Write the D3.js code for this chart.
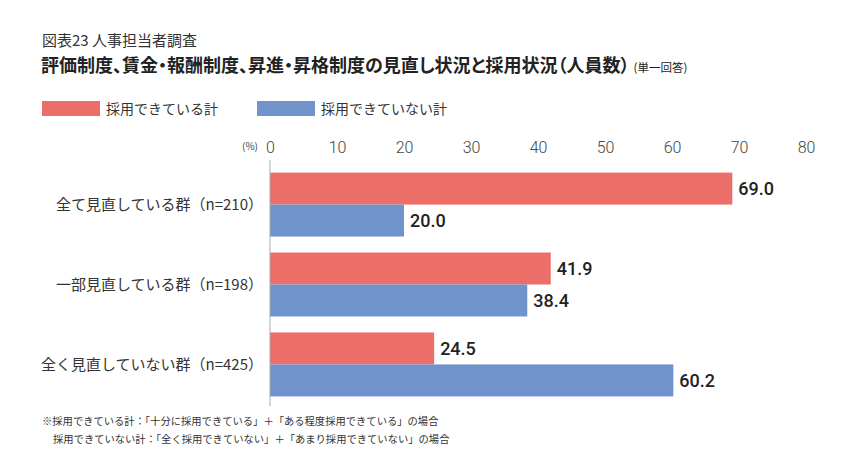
<!DOCTYPE html>
<html>
<head>
<meta charset="utf-8">
<script src="https://cdn.jsdelivr.net/npm/d3@7"></script>
<style>
  body { margin: 0; background: #fff; }
  text { font-family: "Noto Sans CJK JP", "Noto Sans", sans-serif; }
  .num { font-family: Roboto, "Noto Sans", sans-serif; }
  .palt { font-feature-settings: "palt"; }
</style>
</head>
<body>
<div id="chart"></div>
<script>
// Chart data
const categories = ['全て見直している群（n=210）', '一部見直している群（n=198）', '全く見直していない群（n=425）'];
const seriesNames = ['採用できている計', '採用できていない計'];
const hiredValues = [69.0, 41.9, 24.5];
const notHiredValues = [20.0, 38.4, 60.2];
const tickValues = [0, 10, 20, 30, 40, 50, 60, 70, 80];
const colors = ['#ec6e68', '#6f93ca'];

function drawChart(selector) {
    const width = 853, height = 474;
    const svg = d3.select(selector).append('svg')
        .attr('width', width)
        .attr('height', height);

    // Titles
    svg.append('text')
        .attr('x', 42).attr('y', 46)
        .attr('font-size', 15).attr('fill', '#333')
        .text('図表23 人事担当者調査');
    const title = svg.append('text')
        .attr('class', 'palt')
        .attr('x', 41).attr('y', 72)
        .attr('font-size', 18).attr('font-weight', 'bold').attr('fill', '#222');
    title.append('tspan').text('評価制度、賃金・報酬制度、昇進・昇格制度の見直し状況と採用状況（人員数）');
    title.append('tspan').attr('font-size', 11.5).attr('font-weight', 'normal').attr('dx', 4).text('(単一回答)');

    // Legend
    const legendX = [42, 257];
    seriesNames.forEach((name, i) => {
        svg.append('rect')
            .attr('x', legendX[i]).attr('y', 101)
            .attr('width', 58).attr('height', 15)
            .attr('fill', colors[i]);
        svg.append('text')
            .attr('x', legendX[i] + 64).attr('y', 114)
            .attr('font-size', 14).attr('fill', '#333')
            .text(name);
    });

    // Scales
    const x = d3.scaleLinear().domain([0, 80]).range([270, 806]);
    const y = d3.scaleBand().domain(categories).range([163, 406]).paddingInner(0.2).paddingOuter(0.12);
    const sub = d3.scaleBand().domain(seriesNames).range([0, y.bandwidth()]);

    // Top tick labels (no tick lines)
    const axis = svg.append('g')
        .attr('transform', 'translate(0,139)')
        .call(d3.axisTop(x).tickValues(tickValues).tickSize(0).tickPadding(0));
    axis.select('.domain').remove();
    axis.selectAll('text')
        .attr('class', 'num')
        .attr('font-size', 16)
        .attr('fill', '#444')
        .attr('dy', '0.9em')
        .style('font-weight', 300);
    svg.append('text')
        .attr('x', 258).attr('y', 150)
        .attr('text-anchor', 'end')
        .attr('font-size', 10).attr('fill', '#444')
        .text('(%)');

    // Bars
    const rows = categories.map((c, i) => ({ cat: c, vals: [hiredValues[i], notHiredValues[i]] }));
    const groups = svg.selectAll('.grp').data(rows).enter().append('g')
        .attr('class', 'grp')
        .attr('transform', d => `translate(0,${y(d.cat)})`);

    groups.selectAll('rect')
        .data(d => d.vals.map((v, i) => ({ name: seriesNames[i], v, i })))
        .enter().append('rect')
        .attr('x', x(0))
        .attr('y', d => sub(d.name))
        .attr('width', d => x(d.v) - x(0))
        .attr('height', sub.bandwidth())
        .attr('fill', d => colors[d.i]);

    groups.selectAll('.val')
        .data(d => d.vals.map((v, i) => ({ name: seriesNames[i], v, i })))
        .enter().append('text')
        .attr('class', 'num val')
        .attr('x', d => x(d.v) + 6)
        .attr('y', d => sub(d.name) + sub.bandwidth() / 2)
        .attr('dy', '0.36em')
        .attr('font-size', 18).attr('font-weight', 500).attr('fill', '#222')
        .text(d => d3.format('.1f')(d.v));

    // Category labels
    svg.selectAll('.cat').data(categories).enter().append('text')
        .attr('x', 263)
        .attr('y', d => y(d) + y.bandwidth() / 2)
        .attr('dy', '0.36em')
        .attr('text-anchor', 'end')
        .attr('font-size', 15).attr('fill', '#333')
        .text(d => d);

    // Vertical baseline
    svg.append('line')
        .attr('x1', x(0)).attr('x2', x(0))
        .attr('y1', 160).attr('y2', 406)
        .attr('stroke', '#aaa').attr('stroke-width', 1);

    // Footnote
    svg.append('text')
        .attr('x', 42).attr('y', 425)
        .attr('font-size', 10.3).attr('fill', '#333')
        .text('※採用できている計：「十分に採用できている」＋「ある程度採用できている」の場合');
    svg.append('text')
        .attr('x', 53).attr('y', 443)
        .attr('font-size', 10.3).attr('fill', '#333')
        .text('採用できていない計：「全く採用できていない」＋「あまり採用できていない」の場合');
}

drawChart('#chart');
</script>
</body>
</html>
